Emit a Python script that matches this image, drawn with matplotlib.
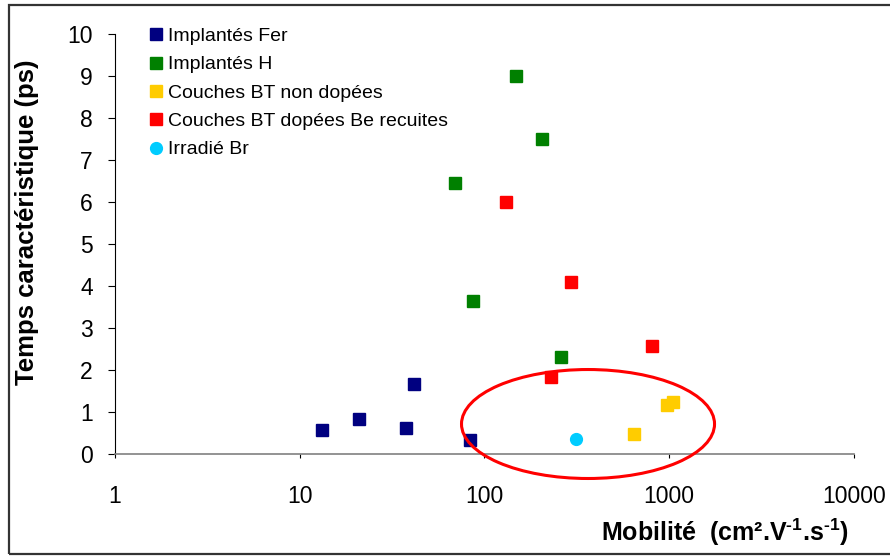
import matplotlib
matplotlib.use("Agg")
import matplotlib.pyplot as plt
from matplotlib.patches import Ellipse, Rectangle
from matplotlib.ticker import FixedLocator, NullLocator, FixedFormatter

plt.rcParams['font.family'] = ['Liberation Sans', 'DejaVu Sans']
plt.rcParams['mathtext.fontset'] = 'custom'
plt.rcParams['mathtext.bf'] = 'Liberation Sans:bold'
plt.rcParams['mathtext.rm'] = 'Liberation Sans:bold'
plt.rcParams['mathtext.default'] = 'bf'

# données (mobilité, temps caractéristique)
fer_x = [13.2, 21.0, 37.7, 41.7, 83.8]
fer_y = [0.56, 0.83, 0.61, 1.66, 0.33]

h_x = [69.2, 86.6, 148, 205, 260.6]
h_y = [6.45, 3.64, 9.0, 7.5, 2.30]

nd_x = [647, 976, 1052]
nd_y = [0.47, 1.16, 1.23]

be_x = [131, 294, 230, 809]
be_y = [6.0, 4.1, 1.83, 2.56]

br_x = [314]
br_y = [0.36]

x_ticks = [1, 10, 100, 1000, 10000]
x_tick_labels = ['1', '10', '100', '1000', '10000']
y_ticks = list(range(0, 11))

fig = plt.figure(figsize=(8.9, 5.56), dpi=100)
ax = fig.add_axes([0.1292, 0.1835, 0.8303, 0.7554])

ax.plot(fer_x, fer_y, 's', color='#000080', ms=8, label='Implantés Fer')
ax.plot(h_x, h_y, 's', color='#008000', ms=8, label='Implantés H')
ax.plot(nd_x, nd_y, 's', color='#FFCC00', ms=8, label='Couches BT non dopées')
ax.plot(be_x, be_y, 's', color='#FF0000', ms=8, label='Couches BT dopées Be recuites')
ax.plot(br_x, br_y, 'o', color='#00CCFF', ms=8.5, label='Irradié Br')

ax.set_xscale('log')
ax.set_xlim(1, 10000)
ax.set_ylim(0, 10)
ax.xaxis.set_major_locator(FixedLocator(x_ticks))
ax.xaxis.set_major_formatter(FixedFormatter(x_tick_labels))
ax.xaxis.set_minor_locator(NullLocator())
ax.set_yticks(y_ticks)

ax.spines['top'].set_visible(False)
ax.spines['right'].set_visible(False)
ax.spines['left'].set_color('black')
ax.spines['bottom'].set_color('#808080')
ax.spines['bottom'].set_linewidth(1.2)
ax.tick_params(axis='y', direction='out', length=5, width=0.8, labelsize=16.5, pad=11)
ax.tick_params(axis='x', direction='out', length=3, width=0.8, labelsize=16.5, pad=19)

ax.set_xlabel(r'Mobilité  (cm².V$^{\text{-}1}$.s$^{\text{-}1}$)', fontsize=18,
              fontweight='bold', loc='right')
ax.xaxis.set_label_coords(0.993, -0.148)
ax.set_ylabel('Temps caractéristique (ps)', fontsize=18.5, fontweight='bold')
ax.yaxis.set_label_coords(-0.103, 0.552)

ax.legend(loc='upper left', bbox_to_anchor=(0.025, 1.057), frameon=False, fontsize=14,
          handlelength=0.5, handletextpad=0.4, labelspacing=0.55, markerscale=1.0)

# ellipse rouge autour des points
ell = Ellipse((0.6607, 0.2374), 0.2843, 0.1960, transform=fig.transFigure,
              fill=False, edgecolor='#FF0000', linewidth=2.2, clip_on=False)
fig.patches.append(ell)

# cadre autour de la figure
frame = Rectangle((0.0096, 0.0036), 1.0, 0.988, transform=fig.transFigure,
                  fill=False, edgecolor='#333333', linewidth=1.6)
fig.patches.append(frame)

fig.savefig('out.png', dpi=100)
